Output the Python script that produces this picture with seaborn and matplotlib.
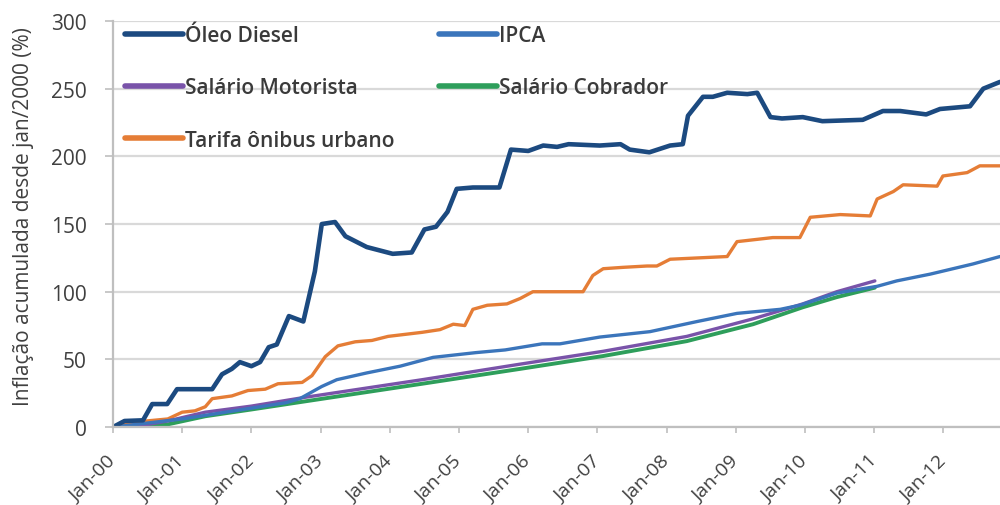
import numpy as np
import pandas as pd
import seaborn as sns
import matplotlib.pyplot as plt

# months counted from Jan-2000, values = accumulated inflation (%)
diesel_mes = [0, 2, 5.2, 6.8, 9.4, 11.1, 17.2, 18.9, 20.6, 22, 24, 25.5, 27, 28.4, 30.5,
              33, 35, 36.2, 38.5, 40.3, 44, 48.5, 51.8, 54, 56, 58, 59.6, 62.4, 67, 69,
              72, 74.6, 77, 79, 84.4, 88, 89.6, 93, 96.6, 98.8, 99.7, 102.3, 104, 106.5, 110,
              111.7, 114, 116, 119.6, 123, 130, 133.5, 136.5, 141, 143.4, 148.6, 150.9, 153.8]
diesel_val = [0, 4.5, 5, 17, 17, 28, 28, 39, 43, 48, 45, 48, 59, 61, 82,
              78, 115, 150, 151.5, 141, 133, 128, 129, 146, 148, 159, 176, 177, 177, 205,
              204, 208, 207, 209, 208, 209, 205, 203, 208, 209, 230, 244, 244, 247, 246,
              247, 229, 228, 229, 226, 227, 233.5, 233.5, 231, 235, 237, 250, 255]

ipca_mes = [0, 6, 12, 18, 24, 30, 32.4, 36.2, 38.8, 44, 49.8, 55.5, 62.9, 68, 74.4, 77.5,
            84.4, 93.1, 101.3, 108.2, 115.7, 119.1, 125.5, 132.5, 135.9, 141.7, 149.1, 153.8]
ipca_val = [0, 3, 6, 10, 14, 18, 21, 30, 35, 40, 45, 51.5, 55, 57, 61.5, 61.5,
            66.5, 70.5, 78, 84, 87, 90, 99, 104, 108, 113, 120.5, 126]

salario_mes = [0, 4, 9.5, 16, 24, 33.3, 53.6, 70.6, 85, 99.5, 111, 119.6, 125.5, 132.1]
motorista_val = [0, 0.5, 4.5, 11, 15.5, 22, 35, 46.5, 56, 67, 80, 91, 100, 108]
cobrador_val = [0, 0, 2, 8, 13, 19, 32, 43, 52.5, 63.5, 76, 88.5, 96, 103]

tarifa_mes = [0, 2.1, 9.5, 12, 14.2, 16, 17.2, 20.6, 23.4, 26.4, 28.6, 32.8, 34.5, 36.8, 39,
              42, 44.9, 47.7, 53.6, 56.7, 59, 61, 62.4, 64.9, 68.3, 70.6, 72.8, 81.5, 83.2, 85,
              88.4, 92.6, 94.3, 96.6, 106.5, 108.2, 114.4, 119.1, 120.9, 126.1, 131.3, 132.5,
              135.3, 137, 142.9, 143.9, 148.1, 150.3, 153.8]
tarifa_val = [0, 3, 6, 11, 12, 15, 21, 23, 27, 28, 32, 33, 38, 52, 60,
              63, 64, 67, 70, 72, 76, 75, 87, 90, 91, 95, 100, 100, 112, 117,
              118, 119, 119, 124, 126, 137, 140, 140, 155, 157, 156, 168.5,
              174, 179, 178, 185.5, 188, 193, 193]

tick_meses = [0, 12, 24, 36, 48, 60, 72, 84, 96, 108, 120, 132, 144]
tick_labels = ["Jan-00", "Jan-01", "Jan-02", "Jan-03", "Jan-04", "Jan-05", "Jan-06",
               "Jan-07", "Jan-08", "Jan-09", "Jan-10", "Jan-11", "Jan-12"]

sns.set_style("white")
plt.rcParams['font.family'] = ['Open Sans', 'DejaVu Sans']

fig = plt.figure(figsize=(10, 5.06), dpi=100)
ax = fig.add_axes([0.113, 0.154, 0.887, 0.8025])

# label, x, y, colour, width
series = [
    ("Tarifa ônibus urbano", tarifa_mes, tarifa_val, "#e57d36", 2.4),
    ("Salário Cobrador", salario_mes, cobrador_val, "#2e9e5b", 2.8),
    ("Salário Motorista", salario_mes, motorista_val, "#7953a9", 2.4),
    ("IPCA", ipca_mes, ipca_val, "#3b75bb", 2.4),
    ("Óleo Diesel", diesel_mes, diesel_val, "#1c4a80", 3.3),
]
for lab, xs, ys, col, lw in series:
    sns.lineplot(x=xs, y=ys, ax=ax, color=col, lw=lw, label=lab,
                 solid_joinstyle='round', solid_capstyle='round')

ax.set_xlim(0, 153.8)
ax.set_ylim(0, 300)
ax.set_yticks(range(0, 301, 50))
ax.set_xticks(tick_meses)
ax.set_xticklabels(tick_labels)

ax.yaxis.grid(True, color='#d9d9d9', lw=1.6)
ax.set_axisbelow(True)
for s in ['top', 'right']:
    ax.spines[s].set_visible(False)
for s in ['left', 'bottom']:
    ax.spines[s].set_color('#bfbfbf')
    ax.spines[s].set_linewidth(1.6)

ax.tick_params(axis='y', length=6, width=1.2, color='#bfbfbf', pad=13,
               labelsize=15, labelcolor='#404040', left=True)
ax.tick_params(axis='x', length=4, width=1.2, color='#bfbfbf', pad=18,
               labelsize=14, labelcolor='#404040', bottom=True)
plt.setp(ax.get_xticklabels(), rotation=45, ha='right', va='center',
         rotation_mode='anchor')

ax.set_ylabel("Inflação acumulada desde jan/2000 (%)", fontsize=15, color='#404040')
ax.yaxis.set_label_coords(-0.089, 0.52)

h, l = ax.get_legend_handles_labels()
d = dict(zip(l, h))
ordem = ["Óleo Diesel", "Salário Motorista", "Tarifa ônibus urbano", "IPCA", "Salário Cobrador"]
leg = ax.legend([d[k] for k in ordem], ordem, ncol=2, loc='upper left',
                bbox_to_anchor=(0.0135, 0.99), frameon=False, borderpad=0,
                borderaxespad=0, prop={'size': 15, 'weight': 'semibold'},
                handlelength=2.8, handletextpad=0.1,
                columnspacing=2.1, labelspacing=1.5)
for t in leg.get_texts():
    t.set_color('#3a3a3a')
for ln in leg.get_lines():
    ln.set_linewidth(4)

fig.savefig("out.png", dpi=100)
